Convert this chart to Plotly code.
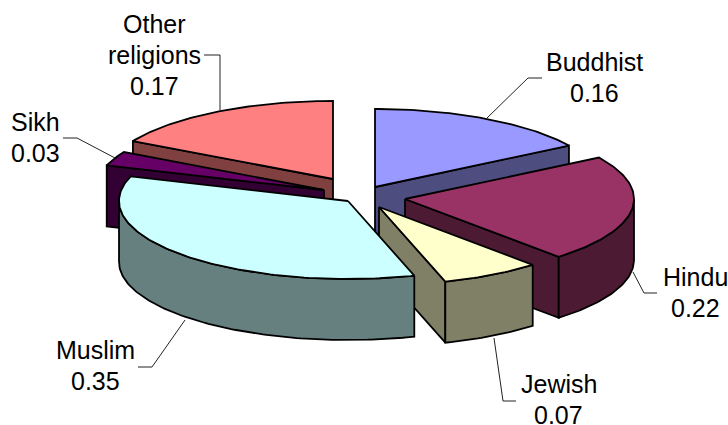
import math
import plotly.graph_objects as go

# Data
categories = ["Buddhist", "Hindu", "Jewish", "Muslim", "Sikh", "Other religions"]
values = [0.16, 0.22, 0.07, 0.35, 0.03, 0.17]

# Styling
top_colors = ["#9999FF", "#993366", "#FFFFCC", "#CCFFFF", "#660066", "#FF8080"]
wall_colors = ["#4D4D80", "#4D1A33", "#808066", "#668080", "#330033", "#804040"]

# Exploded-slice geometry (screen pixel space of the plotting axes)
RX, RY, DEPTH = 229, 78, 61
apexes = {
    "Buddhist": (375, 187), "Hindu": (405, 199), "Jewish": (379, 207),
    "Muslim": (348, 201), "Sikh": (324, 190), "Other religions": (333, 179),
}
draw_order = ["Other religions", "Buddhist", "Sikh", "Hindu", "Jewish", "Muslim"]

LINE_STEP = 31
label_layout = {
    "Buddhist": ((594.5, 62), [(487, 118), (528, 78), (542, 78)]),
    "Hindu": ((695, 277), [(633, 272), (644, 293), (657, 293)]),
    "Jewish": ((558.5, 384), [(494, 338), (503, 401), (516, 401)]),
    "Muslim": ((95, 350), [(185, 320), (152, 367), (138, 367)]),
    "Sikh": ((35, 122), [(115, 158), (77, 138), (63, 138)]),
    "Other religions": ((154, 24), [(220, 110), (220, 55), (204, 55)]),
}


def pt(apex, deg, drop=0):
    # small view correction of the projected angle
    t = math.radians(deg + 1.2 * math.sin(math.radians(deg / 2)) ** 2)
    return apex[0] + RX * math.sin(t), apex[1] - RY * math.cos(t) + drop


def arc(apex, a0, a1, drop=0):
    n = max(2, int(abs(a1 - a0)) + 2)
    return [pt(apex, a0 + (a1 - a0) * i / (n - 1), drop) for i in range(n)]


fig = go.Figure()


def poly(points, color, name):
    xs = [p[0] for p in points] + [points[0][0]]
    ys = [p[1] for p in points] + [points[0][1]]
    fig.add_trace(go.Scatter(x=xs, y=ys, mode="lines", fill="toself", fillcolor=color,
                             line=dict(color="black", width=1.8), name=name,
                             hoverinfo="name", showlegend=False))


angles = {}
running = 0.0
for name, v in zip(categories, values):
    angles[name] = (running * 360, (running + v) * 360)
    running += v

for name in draw_order:
    i = categories.index(name)
    a0, a1 = angles[name]
    apex = apexes[name]
    wall, top = wall_colors[i], top_colors[i]
    # cut faces that look towards the viewer
    if a1 < 180:
        e = pt(apex, a1)
        poly([apex, e, (e[0], e[1] + DEPTH), (apex[0], apex[1] + DEPTH)], wall, name)
    if a0 >= 180:
        e = pt(apex, a0)
        poly([apex, e, (e[0], e[1] + DEPTH), (apex[0], apex[1] + DEPTH)], wall, name)
    # outer rim, front half only
    lo, hi = max(a0, 90), min(a1, 270)
    if lo < hi:
        poly(arc(apex, lo, hi) + arc(apex, hi, lo, DEPTH), wall, name)
    # top face
    poly([apex] + arc(apex, a0, a1), top, name)

annotations = []
for name, v in zip(categories, values):
    (lx, ly), leader = label_layout[name]
    fig.add_trace(go.Scatter(x=[p[0] for p in leader], y=[p[1] for p in leader], mode="lines",
                             line=dict(color="#222222", width=1), hoverinfo="skip", showlegend=False))
    lines = name.split(" ") + [f"{v:.2f}"]
    for k, line in enumerate(lines):
        annotations.append(dict(x=lx, y=ly + k * LINE_STEP, xref="x", yref="y", text=line,
                                showarrow=False, xanchor="center", yanchor="middle",
                                font=dict(family="Liberation Sans", size=25, color="black")))

fig.update_layout(
    width=728, height=425, margin=dict(l=0, r=0, t=0, b=0),
    paper_bgcolor="white", plot_bgcolor="white", showlegend=False,
    xaxis=dict(range=[0, 728], visible=False, fixedrange=True),
    yaxis=dict(range=[425, 0], visible=False, fixedrange=True),
    annotations=annotations,
)
fig.write_html("out.html", config={"displayModeBar": False},
               post_script="document.body.style.margin='0';document.documentElement.style.overflow='hidden';")
